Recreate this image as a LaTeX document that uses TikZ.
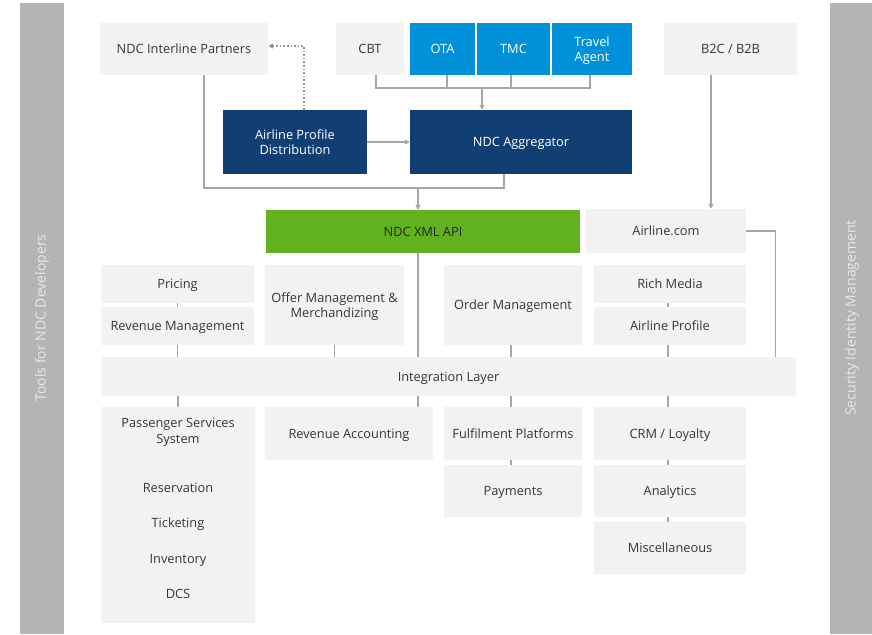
\documentclass[tikz,border=0pt]{standalone}
\usepackage{fontspec}
\setmainfont{Open Sans}
\usetikzlibrary{arrows.meta}
\definecolor{boxgray}{HTML}{F2F2F2}
\definecolor{bargray}{HTML}{B4B4B4}
\definecolor{bartext}{HTML}{E8E8E8}
\definecolor{navy}{HTML}{123F73}
\definecolor{skyblue}{HTML}{0091DA}
\definecolor{apigreen}{HTML}{62B11E}
\definecolor{linegray}{HTML}{A6A6A6}
\definecolor{inkgray}{HTML}{363636}
\tikzset{
  box/.style={fill=boxgray,text=inkgray,inner sep=0pt,align=center,text depth=0pt,font=\fontsize{12.8}{15.5}\selectfont},
  darkbox/.style={box,fill=navy,text=white},
  bluebox/.style={box,fill=skyblue,text=white},
  sz/.style 2 args={minimum width=#1pt,minimum height=#2pt},
  link/.style={draw=linegray,line width=1.2pt},
  tip/.style={link,-{Triangle[length=5pt,width=5pt]}},
}
\begin{document}
\begin{tikzpicture}[x=1pt,y=-1pt]
		\useasboundingbox (0,0) rectangle (872,634);
		% side bars
		\fill[bargray] (20,3) rectangle (64,634);
		\fill[bargray] (830,3) rectangle (872,634);
		\node[rotate=90,text=bartext,font=\fontsize{14}{16}\selectfont] (tools) at (42,318) {Tools for NDC Developers};
		\node[rotate=90,text=bartext,font=\fontsize{14}{16}\selectfont] (secid) at (852,318) {Security Identity Management};
		% channels
		\node[box,sz={168}{52}] (nip) at (184,49) {NDC Interline Partners};
		\node[box,sz={68}{52}] (cbt) at (370,49) {CBT};
		\node[bluebox,sz={65}{52}] (ota) at (442.5,49) {OTA};
		\node[bluebox,sz={73}{52}] (tmc) at (513.5,49) {TMC};
		\node[bluebox,sz={80}{52}] (ta) at (592,49) {Travel\\Agent};
		\node[box,sz={133}{52}] (b2c) at (730.5,49) {B2C / B2B};
		\node[darkbox,sz={144}{64}] (apd) at (295,142) {Airline Profile\\Distribution};
		\node[darkbox,sz={222}{64}] (agg) at (521,142) {NDC Aggregator};
		\node[box,fill=apigreen,text=black!85,sz={314}{43}] (api) at (423,231.5) {NDC XML API};
		\node[box,sz={160}{44}] (acom) at (666,231) {Airline.com};
		% upper modules
		\node[box,sz={153}{38}] (pricing) at (177.5,284) {Pricing};
		\node[box,sz={153}{38}] (revm) at (177.5,326) {Revenue Management};
		\node[box,sz={139}{80}] (offer) at (334.5,305) {Offer Management \&\\Merchandizing};
		\node[box,sz={138}{80}] (order) at (513,305) {Order Management};
		\node[box,sz={152}{38}] (rich) at (670,284) {Rich Media};
		\node[box,sz={152}{38}] (aprof) at (670,326) {Airline Profile};
		\node[box,sz={695}{39}] (integ) at (448.5,376.5) {Integration Layer};
		% lower modules
		\node[box,sz={154}{216}] (pss) at (178,515) {};
		\node[box,fill=none] (psst) at (178,431) {Passenger Services\\System};
		\node[box,fill=none] (resv) at (178,488) {Reservation};
		\node[box,fill=none] (tick) at (178,523) {Ticketing};
		\node[box,fill=none] (inv) at (178,559) {Inventory};
		\node[box,fill=none] (dcs) at (178,594) {DCS};
		\node[box,sz={168}{53}] (revacc) at (349,433.5) {Revenue Accounting};
		\node[box,sz={138}{53}] (fulfil) at (513,433.5) {Fulfilment Platforms};
		\node[box,sz={138}{52}] (pay) at (513,491) {Payments};
		\node[box,sz={152}{53}] (crm) at (670,433.5) {CRM / Loyalty};
		\node[box,sz={152}{52}] (anal) at (670,491) {Analytics};
		\node[box,sz={152}{52}] (misc) at (670,548) {Miscellaneous};
		% connectors
		\coordinate (bus) at (482,88);
		\coordinate (join) at (418,188);
		\draw[link] ([xshift=6pt]cbt.south) |- ([xshift=-2pt]ta.south |- bus) -- ([xshift=-2pt]ta.south);
		\draw[link] ([xshift=4.5pt]ota.south) -- ([xshift=4.5pt]ota.south |- bus);
		\draw[link] ([xshift=-2.5pt]tmc.south) -- ([xshift=-2.5pt]tmc.south |- bus);
		\draw[tip] (bus) -- (bus |- agg.north);
		\draw[tip] (apd.east) -- (agg.west);
		\draw[link,line width=1.6pt,dotted,draw=linegray!90!black,-{Triangle[length=5pt,width=5pt]}] ([xshift=9pt]apd.north) |- ([yshift=3pt]nip.east);
		\draw[link] ([xshift=20pt]nip.south) |- (join) -| ([xshift=-17pt]agg.south);
		\draw[tip] (join) -- (join |- api.north);
		\draw[tip] ([xshift=-19.5pt]b2c.south) -- ([xshift=-19.5pt]b2c.south |- acom.north);
		\draw[link] (acom.east) -| ([xshift=-21pt]integ.north east);
		\draw[link] (join |- api.south) -- (join |- integ.north);
		\draw[link] (join |- integ.south) -- (join |- revacc.north);
		\draw[link] (pricing.south) -- (revm.north);
		\draw[link] (revm.south) -- (revm.south |- integ.north);
		\draw[link] (offer.south) -- (offer.south |- integ.north);
		\draw[link] ([xshift=-2pt]order.south) -- ([xshift=-2pt]order.south |- integ.north);
		\draw[link] ([xshift=-2pt]rich.south) -- ([xshift=-2pt]aprof.north);
		\draw[link] ([xshift=-2pt]aprof.south) -- ([xshift=-2pt]aprof.south |- integ.north);
		\draw[link] (pss.north |- integ.south) -- (pss.north);
		\draw[link] ([xshift=-2pt]fulfil.north |- integ.south) -- ([xshift=-2pt]fulfil.north);
		\draw[link] ([xshift=-2pt]crm.north |- integ.south) -- ([xshift=-2pt]crm.north);
		\draw[link] ([xshift=-2pt]fulfil.south) -- ([xshift=-2pt]pay.north);
		\draw[link] ([xshift=-2pt]crm.south) -- ([xshift=-2pt]anal.north);
		\draw[link] ([xshift=-2pt]anal.south) -- ([xshift=-2pt]misc.north);
	\end{tikzpicture}
\end{document}
